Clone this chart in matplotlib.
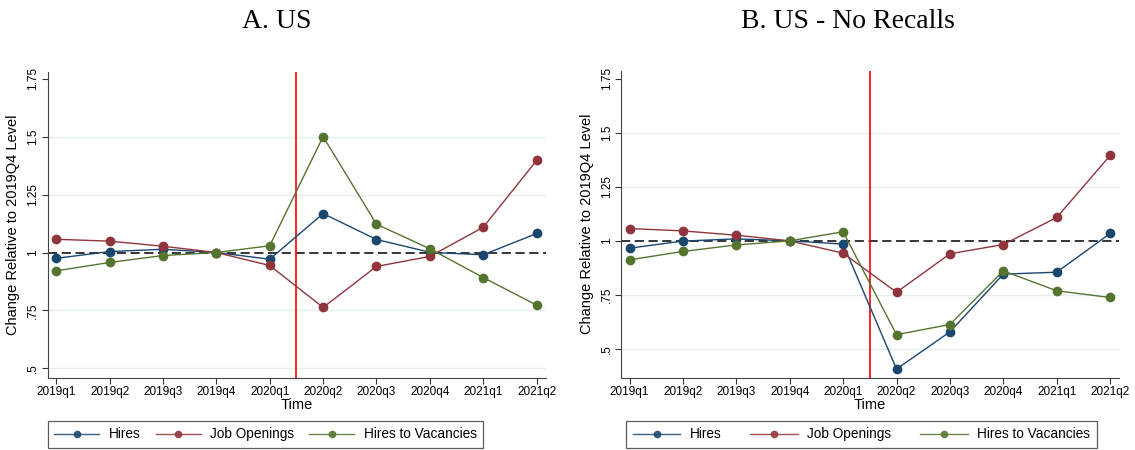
import matplotlib
matplotlib.use("Agg")
import matplotlib.pyplot as plt

plt.rcParams['font.family'] = ['Liberation Sans', 'DejaVu Sans']

quarters = ["2019q1", "2019q2", "2019q3", "2019q4", "2020q1",
            "2020q2", "2020q3", "2020q4", "2021q1", "2021q2"]

# Panel A: US
us_hires = [0.975, 1.004, 1.014, 1.0, 0.971, 1.168, 1.056, 1.001, 0.990, 1.082]
us_openings = [1.057, 1.049, 1.027, 1.0, 0.944, 0.763, 0.940, 0.983, 1.109, 1.397]
us_ratio = [0.921, 0.957, 0.987, 1.0, 1.029, 1.500, 1.122, 1.016, 0.892, 0.773]

# Panel B: US - No Recalls
nr_hires = [0.966, 0.999, 1.009, 1.0, 0.985, 0.407, 0.579, 0.846, 0.855, 1.034]
nr_openings = [1.057, 1.046, 1.026, 1.0, 0.943, 0.762, 0.940, 0.983, 1.108, 1.395]
nr_ratio = [0.912, 0.951, 0.981, 1.0, 1.042, 0.566, 0.613, 0.861, 0.769, 0.738]

yticks = [0.5, 0.75, 1.0, 1.25, 1.5, 1.75]
ytick_labels = [".5", ".75", "1", "1.25", "1.5", "1.75"]

navy = "#1a476f"
maroon = "#90353b"
green = "#55752f"

fig = plt.figure(figsize=(11.35, 4.5), dpi=100)

panels = [
    ("A. US", [0.042, 0.1607, 0.4388, 0.68], (0.46, 1.78),
     us_hires, us_openings, us_ratio, 0.244, 0.042, 1.1, 3.3),
    ("B. US - No Recalls", [0.5471, 0.1607, 0.439, 0.6822], (0.367, 1.787),
     nr_hires, nr_openings, nr_ratio, 0.747, 0.5515, 2.1, 3.5),
]

x = list(range(len(quarters)))

for title, rect, ylim, hires, openings, ratio, tx, lx, cs, hl in panels:
    ax = fig.add_axes(rect)
    for yv in [0.5, 0.75, 1.25, 1.5]:
        ax.axhline(yv, color="#e6eef0", lw=1.0, zorder=0)
    ax.axhline(1.0, color="black", lw=1.1, ls=(0, (6, 3)), zorder=1)
    ax.axvline(4.5, color="red", lw=1.2, zorder=1)

    l1, = ax.plot(x, hires, color=navy, lw=1.0, marker="o", ms=6, label="Hires", zorder=3)
    l2, = ax.plot(x, openings, color=maroon, lw=1.0, marker="o", ms=6, label="Job Openings", zorder=3)
    l3, = ax.plot(x, ratio, color=green, lw=1.0, marker="o", ms=6, label="Hires to Vacancies", zorder=3)

    ax.set_xlim(-0.16, 9.17)
    ax.set_ylim(*ylim)
    ax.set_xticks(x)
    ax.set_xticklabels(quarters, fontsize=8.5)
    ax.set_yticks(yticks)
    ax.set_yticklabels(ytick_labels, fontsize=8.5, rotation=90, va="center")
    ax.tick_params(axis="both", length=4, color="#333333", pad=2)
    for s in ["top", "right"]:
        ax.spines[s].set_visible(False)
    for s in ["left", "bottom"]:
        ax.spines[s].set_color("#444444")
    ax.set_xlabel("Time", fontsize=10.5, labelpad=0)
    ax.set_ylabel("Change Relative to 2019Q4 Level", fontsize=10.5, labelpad=5)

    fig.text(tx, 0.952, title, ha="center", va="center", fontsize=20,
             family=["Liberation Serif", "DejaVu Serif"])

    ax.legend(handles=[l1, l2, l3], loc="lower left", bbox_to_anchor=(lx, 0.004),
              bbox_transform=fig.transFigure, borderaxespad=0, ncol=3, fontsize=9.8,
              frameon=True, fancybox=False, edgecolor="#333333", handlelength=hl,
              handletextpad=0.7, markerscale=0.75, columnspacing=cs, borderpad=0.5)
    leg = ax.get_legend()
    leg.get_frame().set_linewidth(0.9)
    for h in leg.legend_handles:
        h.set_alpha(0.85)

fig.savefig("out.png", dpi=100)
